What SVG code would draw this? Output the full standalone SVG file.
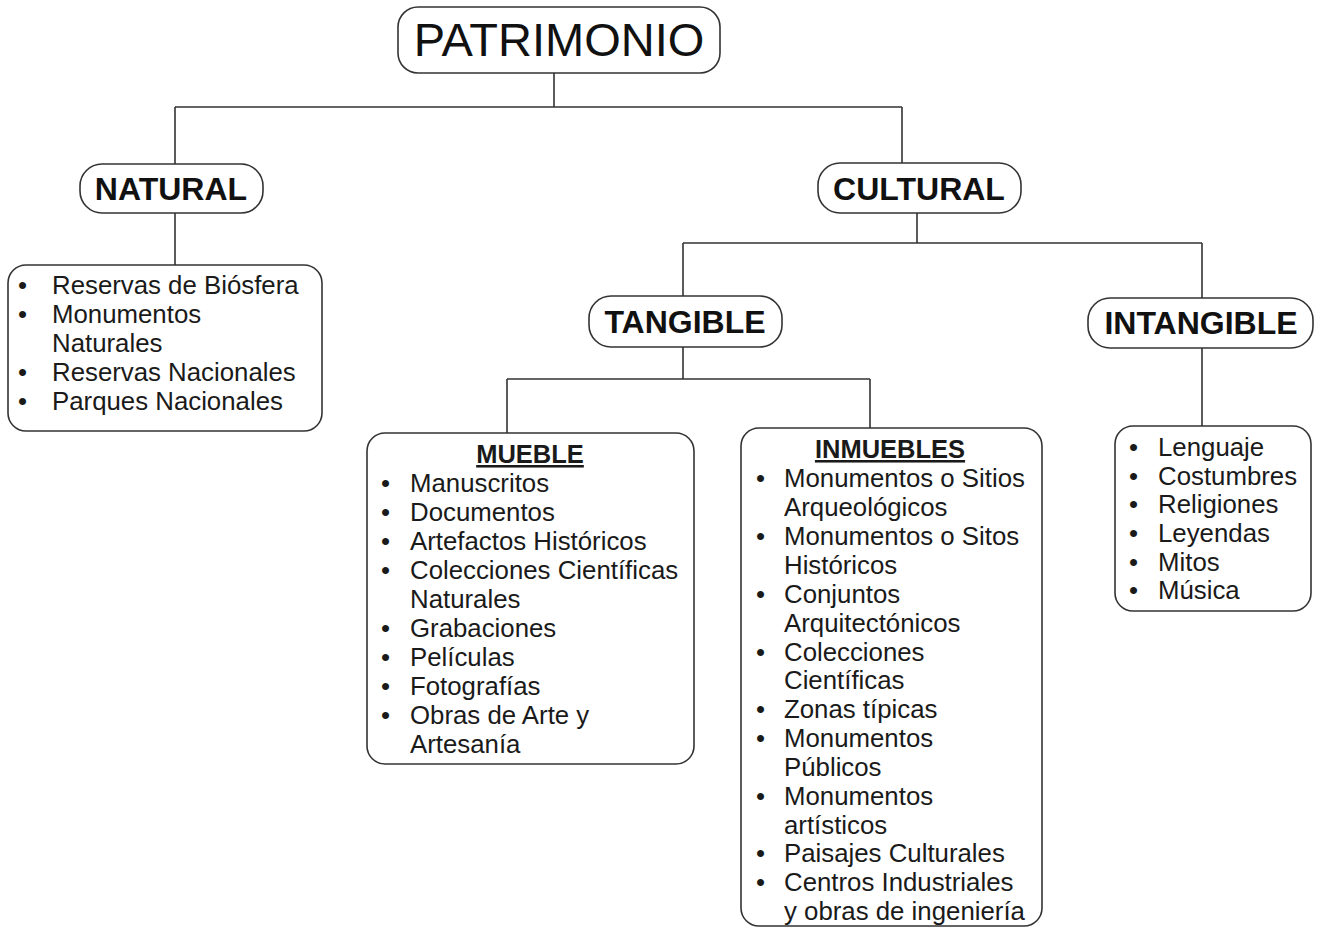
<svg xmlns="http://www.w3.org/2000/svg" width="1319" height="928" viewBox="0 0 1319 928">
<style>
.box{fill:#fff;stroke:#333;stroke-width:1.6}
.con{fill:none;stroke:#333;stroke-width:1.6}
.title{font-family:"Liberation Sans",Arial,sans-serif;font-weight:bold;font-size:32px;fill:#111;text-anchor:middle}
.big{font-family:"Liberation Sans",Arial,sans-serif;font-size:47px;fill:#111;text-anchor:middle}
.item{font-family:"Liberation Sans",Arial,sans-serif;font-size:25.8px;fill:#1a1a1a}
.head{font-family:"Liberation Sans",Arial,sans-serif;font-weight:bold;font-size:25.5px;fill:#1a1a1a;text-anchor:middle;text-decoration:underline}
</style>
<rect width="1319" height="928" fill="#fff"/>
<g id="connectors">
<path class="con" d="M554 73V107M175 107H902M175 107V164M902 107V163"/>
<path class="con" d="M175 213V265"/>
<path class="con" d="M917 213V243M683 243H1202M683 243V296M1202 243V298"/>
<path class="con" d="M683 347V379M507 379H870M507 379V433M870 379V428"/>
<path class="con" d="M1202 348V426"/>
</g>
<g id="patrimonio">
<rect class="box" x="398" y="7" width="322" height="66" rx="20"/>
<text class="big" x="559" y="56">PATRIMONIO</text>
</g>
<g id="natural">
<rect class="box" x="80" y="164" width="183" height="49" rx="22"/>
<text class="title" x="171" y="200">NATURAL</text>
</g>
<g id="natural-list">
<rect class="box" x="8" y="265" width="314" height="166" rx="18"/>
<g class="item">
<text x="18" y="294">•</text><text x="52" y="294">Reservas de Biósfera</text>
<text x="18" y="323">•</text><text x="52" y="323">Monumentos</text>
<text x="52" y="352">Naturales</text>
<text x="18" y="381">•</text><text x="52" y="381">Reservas Nacionales</text>
<text x="18" y="410">•</text><text x="52" y="410">Parques Nacionales</text>
</g>
</g>
<g id="cultural">
<rect class="box" x="818" y="163" width="203" height="50" rx="22"/>
<text class="title" x="919" y="200">CULTURAL</text>
</g>
<g id="tangible">
<rect class="box" x="589" y="296" width="193" height="51" rx="22"/>
<text class="title" x="685" y="333">TANGIBLE</text>
</g>
<g id="intangible">
<rect class="box" x="1088" y="298" width="225" height="50" rx="22"/>
<text class="title" x="1201" y="334">INTANGIBLE</text>
</g>
<g id="mueble">
<rect class="box" x="367" y="433" width="327" height="331" rx="18"/>
<text class="head" x="530" y="463">MUEBLE</text>
<g class="item">
<text x="381" y="492">•</text><text x="410" y="492">Manuscritos</text>
<text x="381" y="521">•</text><text x="410" y="521">Documentos</text>
<text x="381" y="550">•</text><text x="410" y="550">Artefactos Históricos</text>
<text x="381" y="579">•</text><text x="410" y="579">Colecciones Científicas</text>
<text x="410" y="608">Naturales</text>
<text x="381" y="637">•</text><text x="410" y="637">Grabaciones</text>
<text x="381" y="666">•</text><text x="410" y="666">Películas</text>
<text x="381" y="695">•</text><text x="410" y="695">Fotografías</text>
<text x="381" y="724">•</text><text x="410" y="724">Obras de Arte y</text>
<text x="410" y="753">Artesanía</text>
</g>
</g>
<g id="inmuebles">
<rect class="box" x="741" y="428" width="301" height="498" rx="18"/>
<text class="head" x="890" y="458">INMUEBLES</text>
<g class="item">
<text x="756" y="487">•</text><text x="784" y="487">Monumentos o Sitios</text>
<text x="784" y="516">Arqueológicos</text>
<text x="756" y="545">•</text><text x="784" y="545">Monumentos o Sitos</text>
<text x="784" y="574">Históricos</text>
<text x="756" y="603">•</text><text x="784" y="603">Conjuntos</text>
<text x="784" y="632">Arquitectónicos</text>
<text x="756" y="661">•</text><text x="784" y="661">Colecciones</text>
<text x="784" y="689">Científicas</text>
<text x="756" y="718">•</text><text x="784" y="718">Zonas típicas</text>
<text x="756" y="747">•</text><text x="784" y="747">Monumentos</text>
<text x="784" y="776">Públicos</text>
<text x="756" y="805">•</text><text x="784" y="805">Monumentos</text>
<text x="784" y="834">artísticos</text>
<text x="756" y="862">•</text><text x="784" y="862">Paisajes Culturales</text>
<text x="756" y="891">•</text><text x="784" y="891">Centros Industriales</text>
<text x="784" y="920">y obras de ingeniería</text>
</g>
</g>
<g id="intangible-list">
<rect class="box" x="1115" y="426" width="196" height="185" rx="18"/>
<g class="item">
<text x="1129" y="456">•</text><text x="1158" y="456">Lenguaje</text>
<text x="1129" y="485">•</text><text x="1158" y="485">Costumbres</text>
<text x="1129" y="513">•</text><text x="1158" y="513">Religiones</text>
<text x="1129" y="542">•</text><text x="1158" y="542">Leyendas</text>
<text x="1129" y="571">•</text><text x="1158" y="571">Mitos</text>
<text x="1129" y="599">•</text><text x="1158" y="599">Música</text>
</g>
</g>
</svg>
